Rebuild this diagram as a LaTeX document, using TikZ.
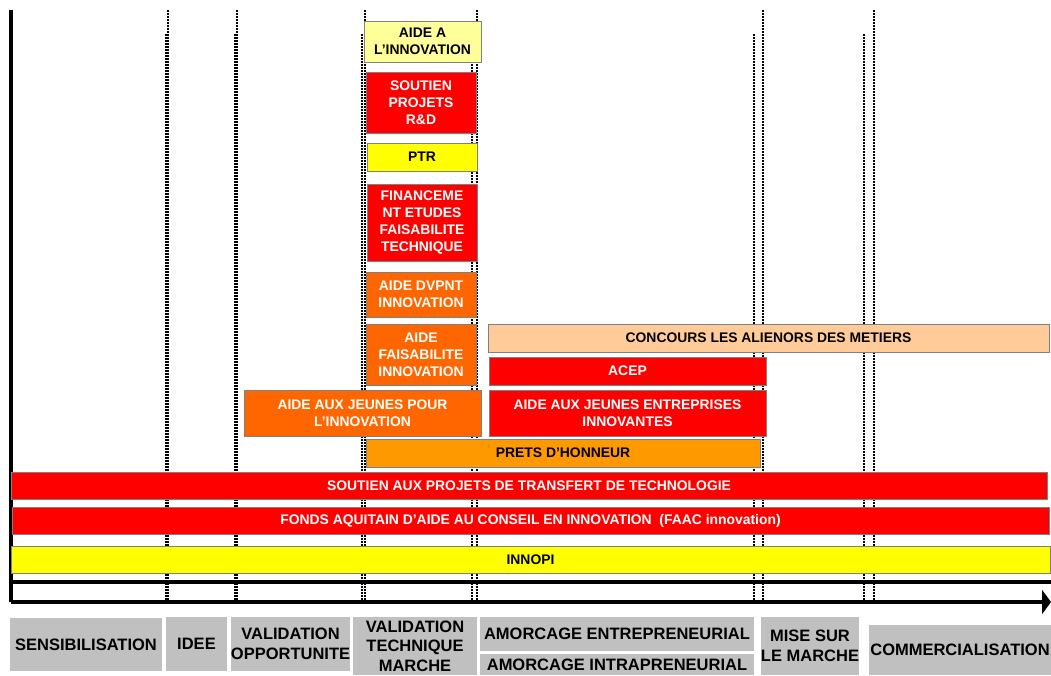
\documentclass[tikz,border=0pt]{standalone}
\usepackage{fontspec}
\setmainfont{Liberation Sans}
\usetikzlibrary{arrows.meta}

\definecolor{aidered}{HTML}{FF0000}
\definecolor{aideyellow}{HTML}{FFFF00}
\definecolor{aidepale}{HTML}{FFFF99}
\definecolor{aideorange}{HTML}{FF6600}
\definecolor{aideamber}{HTML}{FF9900}
\definecolor{aidepeach}{HTML}{FFCC99}
\definecolor{phasegray}{HTML}{C0C0C0}

\begin{document}
\begin{tikzpicture}[x=1pt, y=-1pt,
	wh/.style 2 args={minimum width=#1pt, minimum height=#2pt},
	box/.style={draw=gray, line width=0.8pt, inner sep=0pt, align=center,
		font=\fontsize{13.9}{16.8}\selectfont\bfseries},
	redbox/.style={box, fill=aidered, text=white},
	orangebox/.style={box, fill=aideorange, text=white},
	yellowbox/.style={box, fill=aideyellow},
	palebox/.style={box, fill=aidepale},
	amberbox/.style={box, fill=aideamber},
	peachbox/.style={box, fill=aidepeach},
	phase/.style={fill=phasegray, inner sep=0pt, align=center,
		font=\fontsize{16.5}{19.5}\selectfont\bfseries},
	sep/.style={line width=1.3pt, dash pattern=on 1.5pt off 1.5pt}]
	\useasboundingbox (0,0) rectangle (1051,675);
	% dotted phase limits
	\foreach \xa/\xb in {168/166, 237/235, 365/362, 477/472, 763/754, 874/864} {
		\draw[sep] (\xa, 10) -- (\xa, 602);
		\draw[sep] (\xb, 34) -- (\xb, 602);
	}
	% axes
	\coordinate (top) at (11, 10);
	\coordinate (origin) at (11, 602);
	\coordinate (mid) at (11, 582);
	\coordinate (end) at (1051, 602);
	\coordinate (midend) at (1051, 582);
	\draw[line width=4pt] (top) -- (origin);
	\draw[line width=4pt] (mid) -- (midend);
	\draw[line width=4pt, -{Triangle[length=9pt, width=24pt]}] (origin) -- (end);
	% column of aids
	\node[palebox, wh={117}{41}] (aideinno) at (422.5, 41.5) {AIDE A\\L’INNOVATION};
	\node[redbox, wh={110}{61}] (soutienrd) at (421, 102.5) {SOUTIEN\\PROJETS\\R\&D};
	\node[yellowbox, wh={110}{28}] (ptr) at (422, 157) {PTR};
	\node[redbox, wh={110}{77}] (etudes) at (422, 222.5) {FINANCEME\\NT ETUDES\\FAISABILITE\\TECHNIQUE};
	\node[orangebox, wh={110}{45}] (dvpnt) at (421, 294.5) {AIDE DVPNT\\INNOVATION};
	\node[orangebox, wh={110}{61}] (faisab) at (421, 354.5) {AIDE\\FAISABILITE\\INNOVATION};
	% right of the column
	\node[peachbox, wh={561}{28}] (alienor) at (768.5, 338) {CONCOURS LES ALIENORS DES METIERS};
	\node[redbox, wh={277}{28}] (acep) at (627.5, 371) {ACEP};
	\node[orangebox, wh={237}{46}] (jeunes) at (362.5, 413) {AIDE AUX JEUNES POUR\\L’INNOVATION};
	\node[redbox, wh={277}{46}] (jei) at (627.5, 413) {AIDE AUX JEUNES ENTREPRISES\\INNOVANTES};
	\node[amberbox, wh={394}{28}] (prets) at (563, 453) {PRETS D’HONNEUR};
	% full width bars
	\node[redbox, wh={1036}{27}] (transfert) at (529, 485.5) {SOUTIEN AUX PROJETS DE TRANSFERT DE TECHNOLOGIE};
	\node[redbox, wh={1037}{27}] (faac) at (530.5, 520.5) {FONDS AQUITAIN D’AIDE AU CONSEIL EN INNOVATION~~(FAAC innovation)};
	\node[yellowbox, wh={1039}{27}] (innopi) at (530.5, 559.5) {INNOPI};
	% phases
	\node[phase, wh={152}{53}] (sensib) at (86, 644.5) {SENSIBILISATION};
	\node[phase, wh={61}{54}] (idee) at (196.5, 644) {IDEE};
	\node[phase, wh={119}{54}] (valopp) at (290.5, 644) {VALIDATION\\OPPORTUNITE};
	\node[phase, wh={124}{58}] (valtech) at (415, 646) {VALIDATION\\TECHNIQUE\\MARCHE};
	\node[phase, wh={274}{34}] (entre) at (617, 634) {AMORCAGE ENTREPRENEURIAL};
	\node[phase, wh={274}{21}] (intra) at (617, 664.5) {AMORCAGE INTRAPRENEURIAL};
	\node[phase, wh={98}{58}] (mise) at (810, 646) {MISE SUR\\LE MARCHE};
	\node[phase, wh={182}{50}] (commerc) at (960, 650) {COMMERCIALISATION};
\end{tikzpicture}
\end{document}
